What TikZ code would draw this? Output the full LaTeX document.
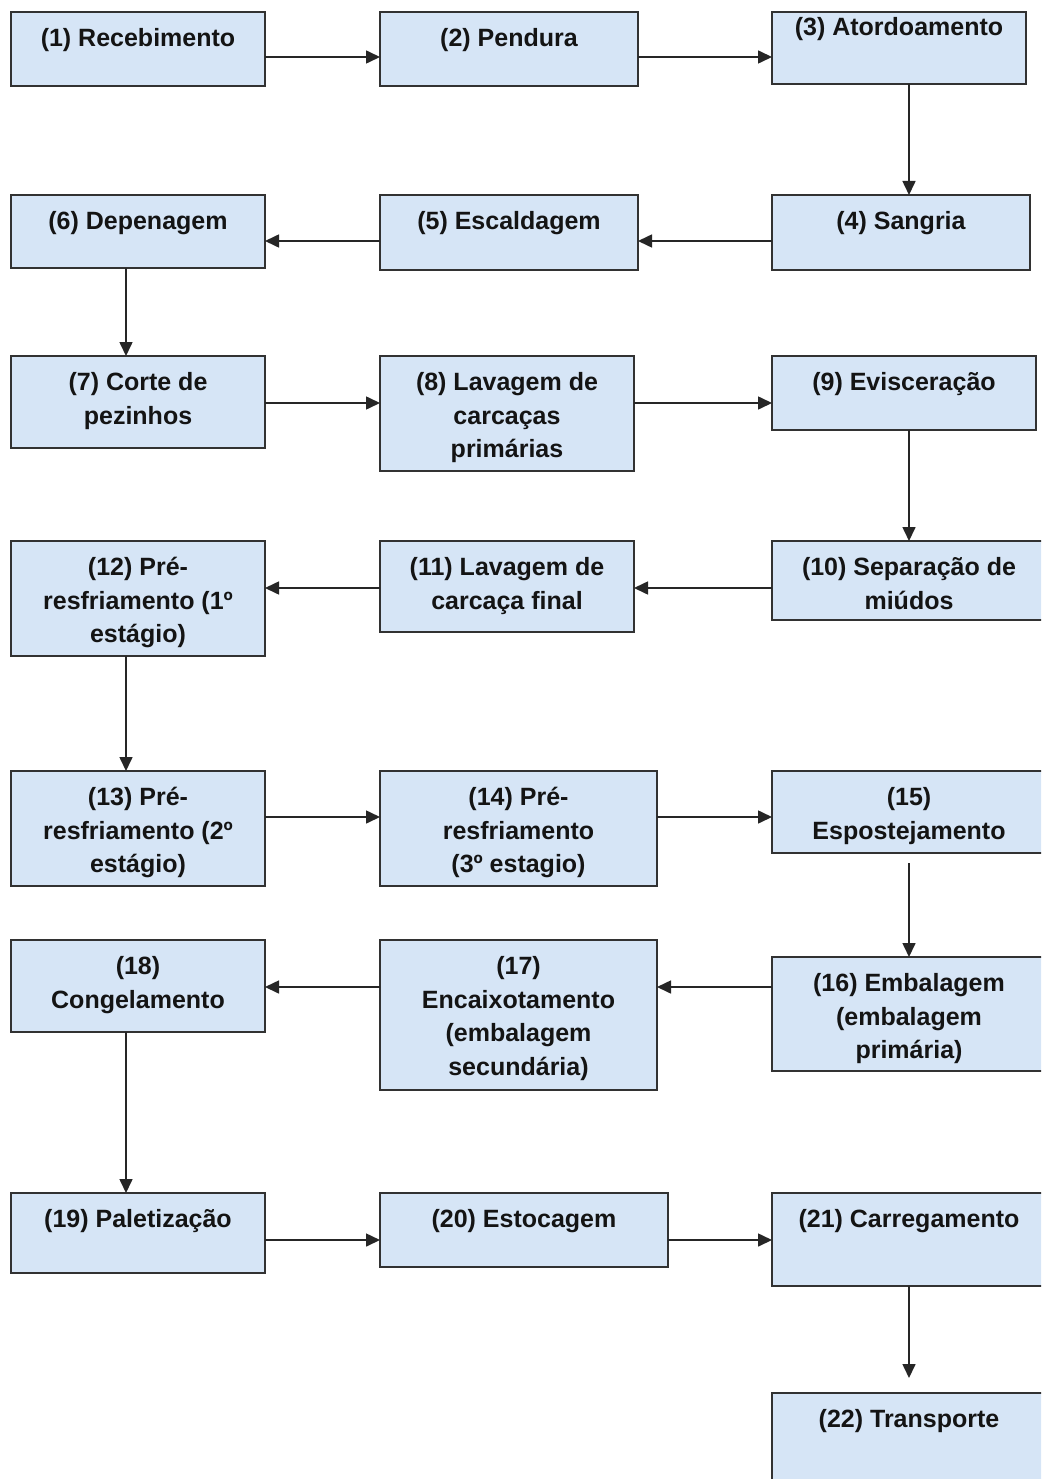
\documentclass[tikz,border=0pt]{standalone}
\usepackage{fontspec}
\setmainfont{Liberation Sans}
\usetikzlibrary{arrows.meta}
\definecolor{boxfill}{RGB}{214,229,246}
\definecolor{boxline}{RGB}{50,50,50}
\definecolor{txt}{RGB}{20,20,20}
\newcommand{\fr}{\rule{0pt}{20pt}}
\tikzset{
  stepbox/.style={draw=boxline, fill=boxfill, line width=1.8pt, rectangle, inner sep=0pt, outer sep=0pt, anchor=north west},
  steptext/.style={anchor=north, inner sep=0pt, align=center, text=txt, font=\fontsize{25}{33.5}\selectfont\bfseries},
  arr/.style={line width=1.6pt, draw=black!85, -{Triangle[length=14pt,width=13pt]}}
}
\begin{document}
\begin{tikzpicture}[x=1pt,y=-1pt]
\clip (0,0) rectangle (1041,1479);
\fill[white] (0,0) rectangle (1041,1479);
% boxes
\node[stepbox, minimum width=254pt, minimum height=74pt] (b1) at (11,12) {};
\node[stepbox, minimum width=258pt, minimum height=74pt] (b2) at (380,12) {};
\node[stepbox, minimum width=254pt, minimum height=72pt] (b3) at (772,12) {};
\node[stepbox, minimum width=258pt, minimum height=75pt] (b4) at (772,195) {};
\node[stepbox, minimum width=258pt, minimum height=75pt] (b5) at (380,195) {};
\node[stepbox, minimum width=254pt, minimum height=73pt] (b6) at (11,195) {};
\node[stepbox, minimum width=254pt, minimum height=92pt] (b7) at (11,356) {};
\node[stepbox, minimum width=254pt, minimum height=115pt] (b8) at (380,356) {};
\node[stepbox, minimum width=264pt, minimum height=74pt] (b9) at (772,356) {};
\node[stepbox, minimum width=274pt, minimum height=79pt] (b10) at (772,541) {};
\node[stepbox, minimum width=254pt, minimum height=91pt] (b11) at (380,541) {};
\node[stepbox, minimum width=254pt, minimum height=115pt] (b12) at (11,541) {};
\node[stepbox, minimum width=254pt, minimum height=115pt] (b13) at (11,771) {};
\node[stepbox, minimum width=277pt, minimum height=115pt] (b14) at (380,771) {};
\node[stepbox, minimum width=274pt, minimum height=82pt] (b15) at (772,771) {};
\node[stepbox, minimum width=274pt, minimum height=114pt] (b16) at (772,957) {};
\node[stepbox, minimum width=277pt, minimum height=150pt] (b17) at (380,940) {};
\node[stepbox, minimum width=254pt, minimum height=92pt] (b18) at (11,940) {};
\node[stepbox, minimum width=254pt, minimum height=80pt] (b19) at (11,1193) {};
\node[stepbox, minimum width=288pt, minimum height=74pt] (b20) at (380,1193) {};
\node[stepbox, minimum width=274pt, minimum height=93pt] (b21) at (772,1193) {};
\node[stepbox, minimum width=274pt, minimum height=100pt] (b22) at (772,1393) {};
% texts
\node[steptext, yshift=-14.5pt] (t1) at (b1.north) {\fr(1) Recebimento};
\node[steptext, yshift=-14.5pt] (t2) at (b2.north) {\fr(2) Pendura};
\node[steptext, yshift=-3.5pt] (t3) at (b3.north) {\fr(3) Atordoamento};
\node[steptext, yshift=-14.5pt] (t4) at (b4.north) {\fr(4) Sangria};
\node[steptext, yshift=-14.5pt] (t5) at (b5.north) {\fr(5) Escaldagem};
\node[steptext, yshift=-14.5pt] (t6) at (b6.north) {\fr(6) Depenagem};
\node[steptext, yshift=-14.5pt] (t7) at (b7.north) {\fr(7) Corte de\\pezinhos};
\node[steptext, yshift=-14.5pt] (t8) at (b8.north) {\fr(8) Lavagem de\\carcaças\\primárias};
\node[steptext, yshift=-14.5pt] (t9) at (b9.north) {\fr(9) Evisceração};
\node[steptext, yshift=-14.5pt] (t10) at (b10.north) {\fr(10) Separação de\\miúdos};
\node[steptext, yshift=-14.5pt] (t11) at (b11.north) {\fr(11) Lavagem de\\carcaça final};
\node[steptext, yshift=-14.5pt] (t12) at (b12.north) {\fr(12) Pré-\\resfriamento (1º\\estágio)};
\node[steptext, yshift=-14.5pt] (t13) at (b13.north) {\fr(13) Pré-\\resfriamento (2º\\estágio)};
\node[steptext, yshift=-14.5pt] (t14) at (b14.north) {\fr(14) Pré-\\resfriamento\\(3º estagio)};
\node[steptext, yshift=-14.5pt] (t15) at (b15.north) {\fr(15)\\Espostejamento};
\node[steptext, yshift=-14.5pt] (t16) at (b16.north) {\fr(16) Embalagem\\(embalagem\\primária)};
\node[steptext, yshift=-14.5pt] (t17) at (b17.north) {\fr(17)\\Encaixotamento\\(embalagem\\secundária)};
\node[steptext, yshift=-14.5pt] (t18) at (b18.north) {\fr(18)\\Congelamento};
\node[steptext, yshift=-14.5pt] (t19) at (b19.north) {\fr(19) Paletização};
\node[steptext, yshift=-14.5pt] (t20) at (b20.north) {\fr(20) Estocagem};
\node[steptext, yshift=-14.5pt] (t21) at (b21.north) {\fr(21) Carregamento};
\node[steptext, yshift=-14.5pt] (t22) at (b22.north) {\fr(22) Transporte};
% row and column guides
\coordinate (r1) at (0,57);
\coordinate (r2) at (0,241);
\coordinate (r3) at (0,403);
\coordinate (r4) at (0,588);
\coordinate (r5) at (0,817);
\coordinate (r6) at (0,987);
\coordinate (r7) at (0,1240);
\coordinate (cl) at (126,0);
\coordinate (cr) at (909,0);
\coordinate (s15) at (909,863);
\coordinate (e22) at (909,1378);
% connectors
\draw[arr] (b1.east |- r1) -- (b2.west |- r1);
\draw[arr] (b2.east |- r1) -- (b3.west |- r1);
\draw[arr] (b3.south -| cr) -- (b4.north -| cr);
\draw[arr] (b4.west |- r2) -- (b5.east |- r2);
\draw[arr] (b5.west |- r2) -- (b6.east |- r2);
\draw[arr] (b6.south -| cl) -- (b7.north -| cl);
\draw[arr] (b7.east |- r3) -- (b8.west |- r3);
\draw[arr] (b8.east |- r3) -- (b9.west |- r3);
\draw[arr] (b9.south -| cr) -- (b10.north -| cr);
\draw[arr] (b10.west |- r4) -- (b11.east |- r4);
\draw[arr] (b11.west |- r4) -- (b12.east |- r4);
\draw[arr] (b12.south -| cl) -- (b13.north -| cl);
\draw[arr] (b13.east |- r5) -- (b14.west |- r5);
\draw[arr] (b14.east |- r5) -- (b15.west |- r5);
\draw[arr] (s15) -- (b16.north -| cr);
\draw[arr] (b16.west |- r6) -- (b17.east |- r6);
\draw[arr] (b17.west |- r6) -- (b18.east |- r6);
\draw[arr] (b18.south -| cl) -- (b19.north -| cl);
\draw[arr] (b19.east |- r7) -- (b20.west |- r7);
\draw[arr] (b20.east |- r7) -- (b21.west |- r7);
\draw[arr] (b21.south -| cr) -- (e22);
\end{tikzpicture}
\end{document}
